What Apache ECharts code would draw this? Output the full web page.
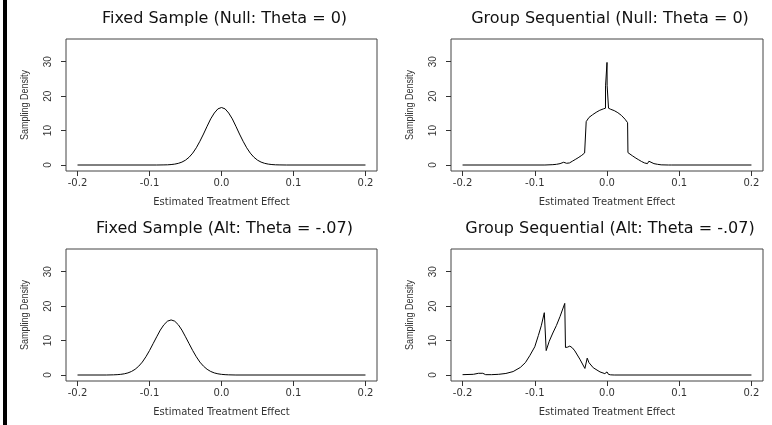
<!DOCTYPE html>
<html>
<head>
<meta charset="utf-8">
<script src="https://cdn.jsdelivr.net/npm/echarts@6/dist/echarts.min.js"></script>
<style>
html,body{margin:0;padding:0;background:#fff;}
#chart{width:772px;height:425px;}
</style>
</head>
<body>
<div id="chart"></div>
<script>
// ---- tick labels ----
var xTicks = [-0.2, -0.1, 0, 0.1, 0.2];
var yTicks = [0, 10, 20, 30];

// ---- panel titles & axis names ----
var titles = [
  'Fixed Sample (Null: Theta = 0)',
  'Group Sequential (Null: Theta = 0)',
  'Fixed Sample (Alt: Theta = -.07)',
  'Group Sequential (Alt: Theta = -.07)'
];
var xName = 'Estimated Treatment Effect';
var yName = 'Sampling Density';

// ---- Panel 1: fixed sample, null ----
var fixedNullX = [-0.2, -0.09, -0.08, -0.075, -0.07, -0.065, -0.06, -0.055, -0.05, -0.045, -0.04, -0.035, -0.03, -0.025, -0.02, -0.015, -0.01, -0.005, 0,
  0.005, 0.01, 0.015, 0.02, 0.025, 0.03, 0.035, 0.04, 0.045, 0.05, 0.055, 0.06, 0.065, 0.07, 0.075, 0.08, 0.09, 0.2];
var fixedNullY = [0, 0, 0.03, 0.06, 0.13, 0.26, 0.48, 0.84, 1.41, 2.26, 3.45, 5.0, 6.9, 9.0, 11.25, 13.4, 15.1, 16.3, 16.7,
  16.3, 15.1, 13.4, 11.25, 9.0, 6.9, 5.0, 3.45, 2.26, 1.41, 0.84, 0.48, 0.26, 0.13, 0.06, 0.03, 0, 0];

// ---- Panel 2: group sequential, null ----
var seqNullX = [-0.2, -0.09, -0.088, -0.086, -0.075, -0.07, -0.065, -0.06, -0.058, -0.056, -0.052, -0.048, -0.044, -0.04, -0.035, -0.031, -0.0292,
  -0.0288, -0.025, -0.02, -0.015, -0.01, -0.005, -0.0021, -0.002, -0.0002, 0, 0.0002, 0.002, 0.0021,
  0.005, 0.01, 0.015, 0.02, 0.025, 0.0285, 0.029, 0.031, 0.035, 0.04, 0.044, 0.048, 0.052, 0.056, 0.058, 0.06, 0.065, 0.07, 0.075, 0.085, 0.087, 0.089, 0.2];
var seqNullY = [0, 0, 0.25, 0, 0.1, 0.2, 0.4, 0.8, 1.1, 0.5, 0.6, 1.1, 1.6, 2.1, 2.8, 3.5, 3.7,
  12.6, 13.8, 14.6, 15.3, 15.9, 16.3, 16.5, 23.0, 23.0, 29.8, 23.0, 23.0, 16.5,
  16.2, 15.8, 15.2, 14.4, 13.3, 12.3, 3.6, 3.4, 2.7, 2.0, 1.5, 1.0, 0.6, 0.4, 1.1, 0.8, 0.4, 0.2, 0.05, 0, 0.25, 0, 0];

// ---- Panel 3: fixed sample, alternative ----
var fixedAltX = [-0.2, -0.16, -0.15, -0.145, -0.14, -0.135, -0.13, -0.125, -0.12, -0.115, -0.11, -0.105, -0.1, -0.095, -0.09, -0.085, -0.08, -0.075, -0.07,
  -0.065, -0.06, -0.055, -0.05, -0.045, -0.04, -0.035, -0.03, -0.025, -0.02, -0.015, -0.01, -0.005, 0, 0.005, 0.01, 0.02, 0.2];
var fixedAltY = [0, 0, 0.05, 0.1, 0.19, 0.35, 0.61, 1.03, 1.66, 2.56, 3.75, 5.3, 7.1, 9.1, 11.1, 13.05, 14.6, 15.64, 16.0,
  15.64, 14.6, 13.05, 11.1, 9.1, 7.1, 5.3, 3.75, 2.56, 1.66, 1.03, 0.61, 0.35, 0.19, 0.1, 0.05, 0, 0];

// ---- Panel 4: group sequential, alternative ----
var seqAltX = [-0.2, -0.185, -0.178, -0.172, -0.168, -0.16, -0.15, -0.14, -0.13, -0.12, -0.113, -0.107, -0.1, -0.095, -0.091, -0.0868,
  -0.0842, -0.08, -0.075, -0.07, -0.065, -0.0585, -0.0575, -0.0545, -0.0515, -0.048, -0.0445, -0.0376, -0.0306, -0.0285, -0.0274,
  -0.025, -0.019, -0.0097, -0.003, 0, 0.002, 0.005, 0.01, 0.2];
var seqAltY = [0.1, 0.2, 0.5, 0.5, 0.1, 0.1, 0.2, 0.45, 1.0, 2.2, 3.6, 5.6, 8.2, 11.5, 14.3, 18.1,
  7.1, 9.8, 12.2, 14.4, 17.0, 20.8, 8.0, 8.1, 8.4, 7.9, 7.0, 4.6, 1.9, 1.5, 4.9,
  3.6, 2.1, 0.9, 0.4, 0.9, 0.2, 0.05, 0, 0];

var panelX = [fixedNullX, seqNullX, fixedAltX, seqAltX];
var panelY = [fixedNullY, seqNullY, fixedAltY, seqAltY];

function pairs(xs, ys) {
  var out = [];
  for (var i = 0; i < xs.length; i++) out.push([xs[i], ys[i]]);
  return out;
}

var grids = [
  {left: 66, top: 39, width: 311, height: 132},
  {left: 451, top: 39, width: 312, height: 132},
  {left: 66, top: 249, width: 311, height: 132},
  {left: 451, top: 249, width: 312, height: 132}
];

var FONT = 'DejaVu Sans';
var NARROW = 'Liberation Sans';

var option = {
  animation: false,
  backgroundColor: '#fff',
  title: titles.map(function (t, i) {
    return {
      text: t,
      left: grids[i].left + grids[i].width / 2 - 2,
      top: grids[i].top - 33,
      textAlign: 'center',
      textStyle: {fontFamily: FONT, fontSize: 16, fontWeight: 'normal', color: '#111'}
    };
  }),
  grid: grids.map(function (g) {
    return {left: g.left, top: g.top, width: g.width, height: g.height, show: true,
      borderColor: '#444', borderWidth: 1, backgroundColor: 'transparent', containLabel: false};
  }),
  xAxis: grids.map(function (g, i) {
    return {
      type: 'value', gridIndex: i, min: -0.216, max: 0.216,
      axisLine: {show: false, onZero: false},
      axisTick: {show: true, inside: false, length: 5, customValues: xTicks, lineStyle: {color: '#333'}},
      axisLabel: {show: true, customValues: xTicks, margin: 7, fontFamily: FONT, fontSize: 10, color: '#333',
        formatter: function (v) { return v.toFixed(1); }},
      splitLine: {show: false},
      name: xName, nameLocation: 'middle', nameGap: 26,
      nameTextStyle: {fontFamily: FONT, fontSize: 10, color: '#333'}
    };
  }),
  yAxis: grids.map(function (g, i) {
    return {
      type: 'value', gridIndex: i, min: -1.74, max: 36.6,
      axisLine: {show: false, onZero: false},
      axisTick: {show: true, inside: false, length: 5, customValues: yTicks, lineStyle: {color: '#333'}},
      axisLabel: {show: true, customValues: yTicks, rotate: 90, margin: 13, fontFamily: NARROW, fontSize: 10, color: '#333'},
      splitLine: {show: false}
    };
  }),
  series: panelX.map(function (xs, i) {
    return {
      type: 'line', xAxisIndex: i, yAxisIndex: i,
      data: pairs(xs, panelY[i]),
      showSymbol: false, symbol: 'none',
      lineStyle: {color: '#000', width: 1},
      silent: true
    };
  }),
  graphic: [
    {type: 'rect', shape: {x: 3, y: 0, width: 4, height: 425}, style: {fill: '#000'}}
  ].concat(grids.map(function (g) {
    // y-axis title, drawn narrow like the original
    return {
      type: 'text', x: g.left - 41, y: g.top + g.height / 2,
      rotation: Math.PI / 2, scaleX: 0.82,
      style: {text: yName, fontFamily: NARROW, fontSize: 11, fill: '#333', align: 'center', verticalAlign: 'middle'}
    };
  }))
};

var chart = echarts.init(document.getElementById('chart'), null, {renderer: 'canvas'});
chart.setOption(option);
</script>
</body>
</html>
